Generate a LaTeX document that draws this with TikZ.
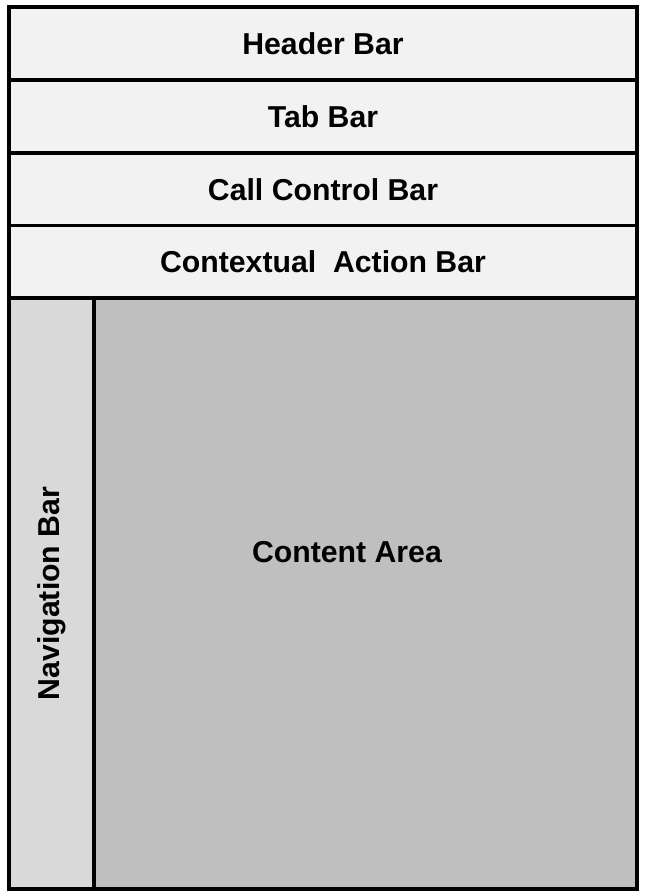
\documentclass[tikz,border=0pt]{standalone}
\usepackage{fontspec}
\setmainfont{Liberation Sans}
\usetikzlibrary{positioning}
\definecolor{barfill}{RGB}{242,242,242}
\definecolor{navfill}{RGB}{217,217,217}
\definecolor{areafill}{RGB}{191,191,191}
\tikzset{
	barnode/.style={rectangle, draw=black, fill=barfill, line width=3.2pt, minimum width=18.84cm, minimum height=2.19cm, inner sep=0pt, font=\fontsize{25.8}{30}\selectfont\bfseries},
	navnode/.style={rectangle, draw=black, fill=navfill, line width=3.2pt, minimum width=2.55cm, minimum height=17.73cm, inner sep=0pt},
	areanode/.style={rectangle, draw=black, fill=areafill, line width=3.2pt, minimum width=16.29cm, minimum height=17.73cm, inner sep=0pt}
}
\begin{document}
\begin{tikzpicture}[x=0.03cm, y=-0.03cm]
		\useasboundingbox (0,0) rectangle (646,896);
		\node[barnode] at (323,43.5) (hdr)    {Header Bar};
		\node[barnode] at (323,116.5) (tab)    {Tab Bar};
		\node[barnode] at (323,189.5) (call)    {Call Control Bar};
		\node[barnode] at (323,262) (ctx)    {Contextual\ \ Action Bar};
		\node[navnode] at (51.5,593.5) (nav)    {};
		\node[areanode] at (365.5,593.5) (area)    {};

		\node[rotate=90, font=\fontsize{25.8}{30}\selectfont\bfseries] at (nav.center) (navt) {Navigation Bar};
		\node[font=\fontsize{25.8}{30}\selectfont\bfseries] at (347,552) (areat) {Content Area};
	\end{tikzpicture}
\end{document}
